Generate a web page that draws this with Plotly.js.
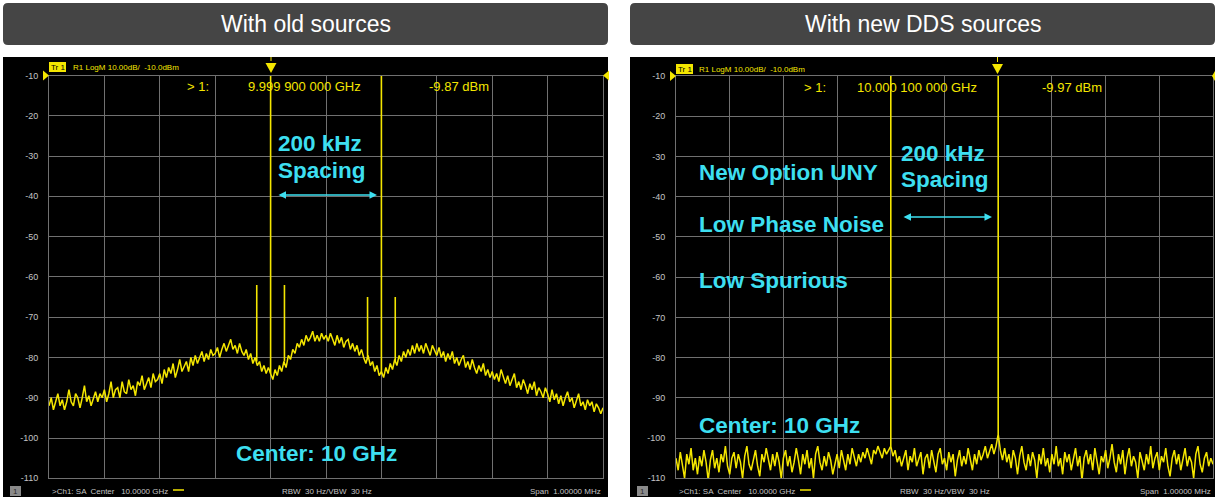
<!DOCTYPE html>
<html><head><meta charset="utf-8">
<script src="https://cdn.plot.ly/plotly-3.0.1.min.js"></script>
<style>html,body{margin:0;padding:0;background:#fff;}#chart{width:1215px;height:497px;}</style>
</head><body><div id="chart"></div>
<script>
// ---- data (frequency offset from 10 GHz in kHz, level in dBm) ----
const sweepStartKHz = -500;
const sweepStepKHz = 4;
const yTickVals = [-10,-20,-30,-40,-50,-60,-70,-80,-90,-100,-110];
const yTickText = ['-10','-20','-30','-40','-50','-60','-70','-80','-90','-100','-110'];

const leftNoise = [
-92,-90,-93,-91,-89,-92,-90.5,-93,-91,-88,-91,-92,-89,-90,-92.5,-90,-87,-91,-89.5,-92,-90,-88.5,-91,-89,-90,
-88,-91,-89,-86,-90,-88,-87.5,-90,-86,-88.5,-89,-85.5,-88,-87,-89.5,-86,-87,-84.5,-88,-86.5,-85,-87.5,-84,-86,-85.5,
-84,-86.5,-83,-85,-82.5,-84,-81.5,-85,-83,-80.5,-83.5,-82,-81,-83.5,-80,-82,-79.5,-81.5,-80,-78.5,-81,-79,-80.5,-78,-79.5,
-79,-77.5,-80,-78,-76.5,-78.5,-77,-75.5,-78,-77,-79,-76.5,-78.5,-79.5,-78,-80.5,-79,-81.5,-80,-82,-81,-83.5,-82,-84,-82.5,
-84,-85.5,-83,-84.5,-82,-83.5,-81,-82.5,-79.5,-80.5,-78,-79,-76.5,-77.5,-75.5,-77,-74.5,-76,-75,-73.5,-76,-74.5,-76,-74,-75.5,
-74.5,-76,-74,-75.5,-77,-74.5,-76.5,-75,-77.5,-76,-75.5,-78,-76.5,-78.5,-77,-79.5,-78,-80,-81.5,-79.5,-82,-81,-83.5,-82,-84.5,
-83.5,-85,-82.5,-84,-81.5,-83,-80.5,-82,-79.5,-81,-78.5,-80,-78,-79.5,-77,-79,-76.5,-78.5,-77,-79,-76.5,-78,-79.5,-77,-78.5,
-79.5,-77.5,-80,-78.5,-81,-79,-80.5,-78.5,-81.5,-80,-82,-80.5,-79.5,-82.5,-81,-83,-80.5,-82.5,-84,-82,-83.5,-81.5,-84.5,-83,-85,
-83.5,-85.5,-84,-86,-83,-85,-86.5,-84.5,-87,-85.5,-84,-87.5,-86,-88,-85.5,-87,-89,-86.5,-88,-86,-89.5,-87.5,-88.5,-90,-87.5,
-89,-91,-88,-90.5,-89,-91.5,-89.5,-92,-90,-88.5,-91,-90,-92.5,-90.5,-89,-92,-91,-93,-90.5,-92,-91,-93.5,-91.5,-92.5,-94,-92.5
];
const rightNoise = [
-105,-108,-103.5,-107,-110,-104,-106.5,-102.5,-108,-105,-109,-104.5,-107,-103,-106,-110.5,-105.5,-103,-107.5,-105,-108.5,-104,-106,-102,-107,
-109,-105,-103.5,-107.5,-104,-106,-110,-104.5,-102,-106.5,-108,-105,-103,-107,-109.5,-104,-106,-102.5,-105.5,-108,-104,-107,-103.5,-106,-110,
-105,-103,-107,-104.5,-108.5,-106,-102.5,-105.5,-109,-104,-106.5,-103,-107.5,-105,-110,-104,-102,-106,-108,-104.5,-107,-103.5,-105.5,-109,-106,
-104,-107.5,-103,-105.5,-108,-104,-106.5,-102.5,-105,-107,-104,-106,-103.5,-105,-102.5,-104.5,-106.5,-103,-104,-102,-103.5,-105,-102.5,-104,-103,
-102,-104.5,-103,-106,-104.5,-107,-105,-103,-108,-104.5,-106,-102.5,-107,-105.5,-103.5,-109,-105,-104,-107.5,-103,-106,-108.5,-104,-102.5,-106.5,
-105,-108,-103.5,-106,-104,-109.5,-105.5,-103,-107,-104.5,-106.5,-102.5,-105,-108,-104,-106.5,-103,-105.5,-104,-102,-105,-103,-101.5,-104,-102,
-99,-103,-105.5,-102.5,-106,-104,-107.5,-103,-105,-109,-104.5,-102,-106,-108,-104,-107,-103.5,-105.5,-110,-104,-106.5,-102.5,-107,-105,-108.5,
-104,-106.5,-102,-107,-105,-109,-103.5,-106,-104,-108,-105.5,-102.5,-107,-104.5,-110.5,-105,-103,-106.5,-104,-108,-102.5,-106,-109,-104.5,-106,
-103,-107.5,-105,-101.5,-106,-108.5,-104,-106.5,-103,-109,-105,-102.5,-107,-104.5,-106,-110,-103.5,-105.5,-108,-104,-106.5,-102,-107.5,-105,-103.5,
-108,-104.5,-106,-102.5,-107,-109.5,-105,-103,-106.5,-104,-108,-105.5,-102.5,-107,-104.5,-106,-110,-104,-102,-106.5,-108.5,-105,-103.5,-107,-105,-106.5
];
const leftSpikeFreq = [-125, -100, -75, 75, 100, 125];
const leftSpikePeak = [-62, -9.87, -62, -65, -9.9, -65];
const leftSpikeBase = [-81, -84, -81, -80.5, -84, -81];
const rightSpikeFreq = [-100, 100];
const rightSpikePeak = [-10, -9.97];
const rightSpikeBase = [-102, -99];

// ---- helpers ----
const W = 1215, H = 497;
const px = x => x / W, py = y => 1 - y / H;
const sweep = n => Array.from({length: n}, (_, i) => sweepStartKHz + i * sweepStepKHz);
function spikes(f, p, b) {
  const x = [], y = [];
  f.forEach((v, i) => { x.push(v, v, null); y.push(b[i], p[i], null); });
  return {x, y};
}
const GRID = '#707070', YEL = '#f4e600', CYAN = '#3ddff0', TXT = '#c4c4c4';
const FONT = 'Liberation Sans, Arial, sans-serif';

const ls = spikes(leftSpikeFreq, leftSpikePeak, leftSpikeBase);
const rs = spikes(rightSpikeFreq, rightSpikePeak, rightSpikeBase);
const data = [
  {x: sweep(leftNoise.length), y: leftNoise, xaxis: 'x', yaxis: 'y', type: 'scatter', mode: 'lines', line: {color: YEL, width: 1.5}},
  {x: ls.x, y: ls.y, xaxis: 'x', yaxis: 'y', type: 'scatter', mode: 'lines', line: {color: YEL, width: 1.6}, connectgaps: false},
  {x: sweep(rightNoise.length), y: rightNoise, xaxis: 'x2', yaxis: 'y2', type: 'scatter', mode: 'lines', line: {color: YEL, width: 1.5}},
  {x: rs.x, y: rs.y, xaxis: 'x2', yaxis: 'y2', type: 'scatter', mode: 'lines', line: {color: YEL, width: 1.6}, connectgaps: false}
];

const axX = {range: [-500, 500], tick0: -500, dtick: 100, showgrid: true, gridcolor: GRID, gridwidth: 1,
  zeroline: false, showticklabels: false, ticks: '', showline: true, linecolor: GRID, linewidth: 1, mirror: true, fixedrange: true};
const axY = {range: [-110, -10], tickmode: 'array', tickvals: yTickVals, ticktext: yTickText, showgrid: true, gridcolor: GRID,
  gridwidth: 1, zeroline: false, ticks: '', showline: true, linecolor: GRID, linewidth: 1, mirror: true, fixedrange: true,
  tickfont: {family: 'Liberation Sans Narrow, Liberation Sans, Arial', size: 9, color: TXT}, ticklabelstandoff: 8};

function rr(x0, y0, x1, y1, r) {
  const P = (x, y) => px(x) + ',' + py(y);
  return 'M' + P(x0 + r, y0) + ' L' + P(x1 - r, y0) + ' Q' + P(x1, y0) + ' ' + P(x1, y0 + r) +
    ' L' + P(x1, y1 - r) + ' Q' + P(x1, y1) + ' ' + P(x1 - r, y1) + ' L' + P(x0 + r, y1) +
    ' Q' + P(x0, y1) + ' ' + P(x0, y1 - r) + ' L' + P(x0, y0 + r) + ' Q' + P(x0, y0) + ' ' + P(x0 + r, y0) + ' Z';
}
function tri(pts) { return 'M' + pts.map(p => px(p[0]) + ',' + py(p[1])).join(' L') + ' Z'; }
function rect(x0, y0, x1, y1, fill, layer) {
  return {type: 'rect', xref: 'paper', yref: 'paper', x0: px(x0), x1: px(x1), y0: py(y1), y1: py(y0),
    fillcolor: fill, line: {width: 0}, layer: layer || 'below'};
}
function pth(path, fill) { return {type: 'path', xref: 'paper', yref: 'paper', path, fillcolor: fill, line: {width: 0}, layer: 'above'}; }
function seg(x0, y0, x1, y1, color, w) {
  return {type: 'line', xref: 'paper', yref: 'paper', x0: px(x0), x1: px(x1), y0: py(y0), y1: py(y1), line: {color, width: w}, layer: 'above'};
}

const shapes = [
  rect(3, 57, 608, 497, '#000000'),
  rect(630, 57, 1215, 497, '#000000'),
  pth(rr(3, 3, 608, 45, 5), '#454545'),
  pth(rr(630, 3, 1215, 45, 5), '#454545'),
  // reference level markers
  pth(tri([[43, 70.5], [49, 75.5], [43, 80.5]]), YEL),
  pth(tri([[609, 70.5], [603, 75.5], [609, 80.5]]), YEL),
  pth(tri([[670, 71], [676, 76], [670, 81]]), YEL),
  pth(tri([[1215, 71], [1212, 76], [1215, 81]]), YEL),
  // marker triangles
  pth(tri([[265.5, 63], [276.5, 63], [271, 73]]), YEL),
  seg(271, 57, 271, 61, YEL, 1),
  pth(tri([[992, 64], [1003, 64], [997.5, 74]]), YEL),
  seg(997.5, 57, 997.5, 62, YEL, 1),
  // Tr 1 boxes
  rect(49, 62, 66, 72, YEL, 'above'),
  rect(676, 64, 693, 74, YEL, 'above'),
  // channel number boxes
  rect(10, 486, 21, 496, '#8a8a8a', 'above'),
  rect(637, 486, 648, 496, '#8a8a8a', 'above'),
  // trace colour dashes in status line
  seg(173, 490, 184, 490, YEL, 1.5),
  seg(800, 490, 811, 490, YEL, 1.5)
];

function ann(text, x, y, size, color, xanchor, opts) {
  return Object.assign({text, x: px(x), y: py(y), xref: 'paper', yref: 'paper', showarrow: false,
    xanchor: xanchor || 'left', yanchor: 'middle', font: {family: FONT, size, color}}, opts || {});
}
function arrow(x0, x1, y) {
  return {text: '', xref: 'paper', yref: 'paper', x: px(x1), y: py(y), ax: x0 - x1, ay: 0, axref: 'pixel', ayref: 'pixel',
    showarrow: true, arrowhead: 2, startarrowhead: 2, arrowside: 'end+start', arrowsize: 1, startarrowsize: 1,
    arrowwidth: 1.5, arrowcolor: CYAN, standoff: 0, startstandoff: 0};
}

const annotations = [
  ann('With old sources', 305.5, 24, 23, '#ffffff', 'center'),
  ann('With new DDS sources', 923, 24, 23, '#ffffff', 'center'),
  // left header
  ann('Tr 1', 57.5, 67.2, 8, '#000000', 'center'),
  ann('R1 LogM 10.00dB/  -10.0dBm', 71, 67.5, 8, YEL),
  ann('&gt; 1:', 185, 86.5, 13, YEL),
  ann('9.999 900 000 GHz', 246, 86.5, 13, YEL),
  ann('-9.87 dBm', 427, 86.5, 13, YEL),
  // right header
  ann('Tr 1', 684.5, 69.2, 8, '#000000', 'center'),
  ann('R1 LogM 10.00dB/  -10.0dBm', 697, 69.5, 8, YEL),
  ann('&gt; 1:', 802, 87.5, 13, YEL),
  ann('10.000 100 000 GHz', 855, 87.5, 13, YEL),
  ann('-9.97 dBm', 1040, 87.5, 13, YEL),
  // left callouts
  ann('<b>200 kHz</b>', 276, 143, 22.5, CYAN),
  ann('<b>Spacing</b>', 276, 170, 22.5, CYAN),
  arrow(277, 377, 195),
  ann('<b>Center: 10 GHz</b>', 234, 453, 22.5, CYAN),
  // right callouts
  ann('<b>New Option UNY</b>', 697, 172, 22.5, CYAN),
  ann('<b>Low Phase Noise</b>', 697, 225, 22.5, CYAN),
  ann('<b>Low Spurious</b>', 697, 280, 22.5, CYAN),
  ann('<b>200 kHz</b>', 899, 153, 22.5, CYAN),
  ann('<b>Spacing</b>', 899, 180, 22.5, CYAN),
  arrow(902, 992, 217),
  ann('<b>Center: 10 GHz</b>', 697, 425, 22.5, CYAN),
  // status lines
  ann('1', 15.5, 491, 8, '#2a2a2a', 'center'),
  ann('&gt;Ch1: SA  Center   10.0000 GHz', 49.5, 491, 8, TXT),
  ann('RBW  30 Hz/VBW  30 Hz', 327, 491, 8, TXT, 'center'),
  ann('Span  1.00000 MHz', 603, 491, 8, TXT, 'right'),
  ann('1', 642.5, 491, 8, '#2a2a2a', 'center'),
  ann('&gt;Ch1: SA  Center   10.0000 GHz', 676.5, 491, 8, TXT),
  ann('RBW  30 Hz/VBW  30 Hz', 945, 491, 8, TXT, 'center'),
  ann('Span  1.00000 MHz', 1213, 491, 8, TXT, 'right')
];

const layout = {
  width: W, height: H, margin: {l: 0, r: 0, t: 0, b: 0, pad: 0},
  paper_bgcolor: '#ffffff', plot_bgcolor: '#000000', showlegend: false,
  xaxis: Object.assign({}, axX, {domain: [px(49), px(603)], anchor: 'y'}),
  yaxis: Object.assign({}, axY, {domain: [py(478.3), py(75.5)], anchor: 'x'}),
  xaxis2: Object.assign({}, axX, {domain: [px(676), px(1213)], anchor: 'y2'}),
  yaxis2: Object.assign({}, axY, {domain: [py(478.3), py(76)], anchor: 'x2'}),
  shapes, annotations
};
Plotly.newPlot('chart', data, layout, {staticPlot: true, displayModeBar: false});
</script>
</body></html>
